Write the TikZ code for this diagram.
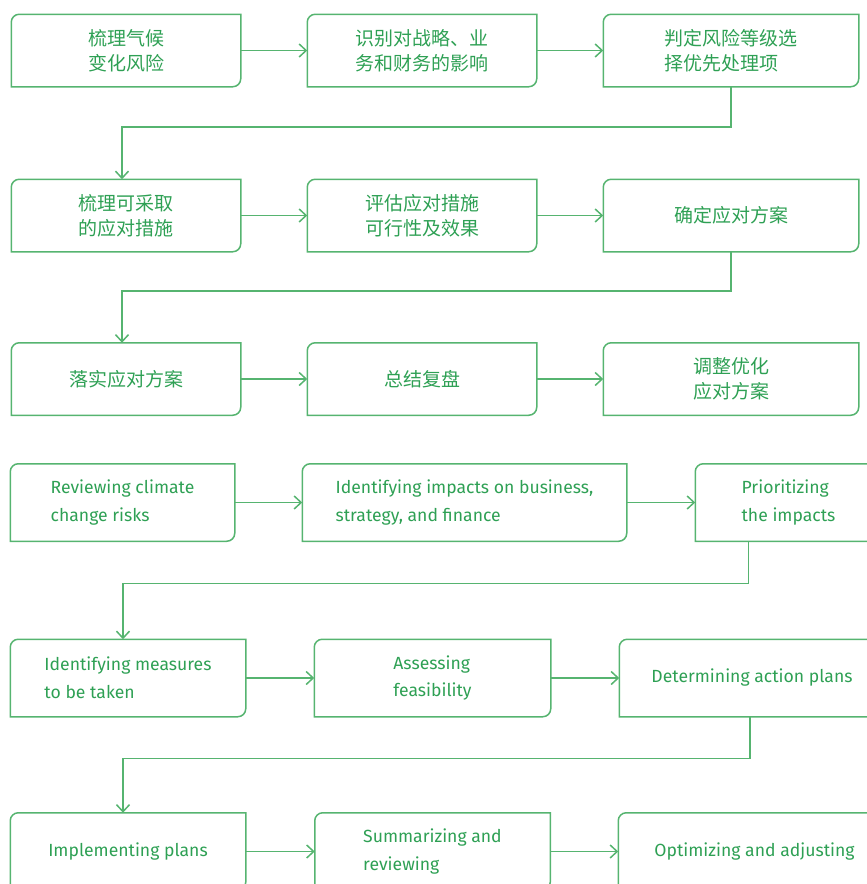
\documentclass[tikz,border=0pt]{standalone}
\usepackage{fontspec}
\setmainfont{Fira Sans}
\newfontfamily\cjk{Noto Sans CJK SC}
\usetikzlibrary{arrows.meta}
\definecolor{flowgreen}{RGB}{86,180,112}
\definecolor{textgreen}{RGB}{46,160,84}

\begin{document}
\begin{tikzpicture}[x=1pt,y=1pt,>={Straight Barb[length=7pt,width=13pt]},line width=1.5pt,
  stepbox/.style={inner sep=0pt,text=textgreen,align=center},
  zh/.style={stepbox,minimum height=71pt,font=\cjk\fontsize{19}{25}\selectfont},
  en/.style={stepbox,minimum height=76pt,align=left,font=\fontsize{17.6}{28}\selectfont},
  flow/.style={->,draw=flowgreen}]
  \useasboundingbox (0,0) rectangle (867,-884);
  \clip (0,0) rectangle (867,-884);

  % Chinese chart
  \node[zh,minimum width=228pt] (z1) at (126,-50.5) {梳理气候\\变化风险};
  \node[zh,minimum width=228pt] (z2) at (422,-50.5) {识别对战略、业\\务和财务的影响};
  \node[zh,minimum width=254pt,align=left] (z3) at (731,-50.5) {判定风险等级选\\择优先处理项};
  \node[zh,minimum width=228pt] (z4) at (126,-215.5) {梳理可采取\\的应对措施};
  \node[zh,minimum width=228pt] (z5) at (422,-215.5) {评估应对措施\\可行性及效果};
  \node[zh,minimum width=254pt] (z6) at (731,-215.5) {确定应对方案};
  \node[zh,minimum width=228pt] (z7) at (126,-379) {落实应对方案};
  \node[zh,minimum width=228pt] (z8) at (422,-379) {总结复盘};
  \node[zh,minimum width=254pt] (z9) at (731,-379) {调整优化\\应对方案};

  % English chart
  \node[en,minimum width=223pt] (e1) at (122.5,-502.5) {Reviewing climate\\change risks};
  \node[en,minimum width=323pt] (e2) at (464.5,-502.5) {Identifying impacts on business,\\strategy, and finance};
  \node[en,minimum width=185pt] (e3) at (788.5,-502.5) {Prioritizing\\the impacts};
  \node[en,minimum width=234pt] (e4) at (128,-678) {Identifying measures\\to be taken};
  \node[en,minimum width=235pt] (e5) at (432.5,-678) {Assessing\\feasibility};
  \node[en,minimum width=264pt] (e6) at (752,-678) {Determining action plans};
  \node[en,minimum width=234pt] (e7) at (128,-851.5) {Implementing plans};
  \node[en,minimum width=234pt] (e8) at (432.5,-851.5) {Summarizing and\\reviewing};
  \node[en,minimum width=271pt] (e9) at (754.5,-851.5) {Optimizing and adjusting};

  % box outlines: round top left and bottom right corners only
  \foreach \n in {z1,z2,z3,z4,z5,z6,z7,z8,z9,e1,e2,e3,e4,e5,e6,e7,e8,e9}
    \draw[flowgreen] ([yshift=-8pt]\n.north west) arc[start angle=180,end angle=90,radius=8pt]
      -- (\n.north east) -- ([yshift=8pt]\n.south east)
      arc[start angle=0,end angle=-90,radius=8pt] -- (\n.south west) -- cycle;

  % arrows
  \draw[flow] (z1) -- (z2);
  \draw[flow] (z2) -- (z3);
  \draw[flow] (z3.south) -- ++(0,-40) -| ([xshift=-4pt]z4.north);
  \draw[flow] (z4) -- (z5);
  \draw[flow] (z5) -- (z6);
  \draw[flow] (z6.south) -- ++(0,-39) -| ([xshift=-4pt]z7.north);
  \draw[flow] (z7) -- (z8);
  \draw[flow] (z8) -- (z9);

  \draw[flow] (e1) -- (e2);
  \draw[flow] (e2) -- (e3);
  \draw[flow] ([xshift=53pt]e3.south west) -- ++(0,-42) -| ([xshift=-5pt]e4.north);
  \draw[flow] (e4) -- (e5);
  \draw[flow] (e5) -- (e6);
  \draw[flow] ([xshift=-2pt]e6.south) -- ++(0,-41.5) -| ([xshift=-5pt]e7.north);
  \draw[flow] (e7) -- (e8);
  \draw[flow] (e8) -- (e9);
\end{tikzpicture}
\end{document}
